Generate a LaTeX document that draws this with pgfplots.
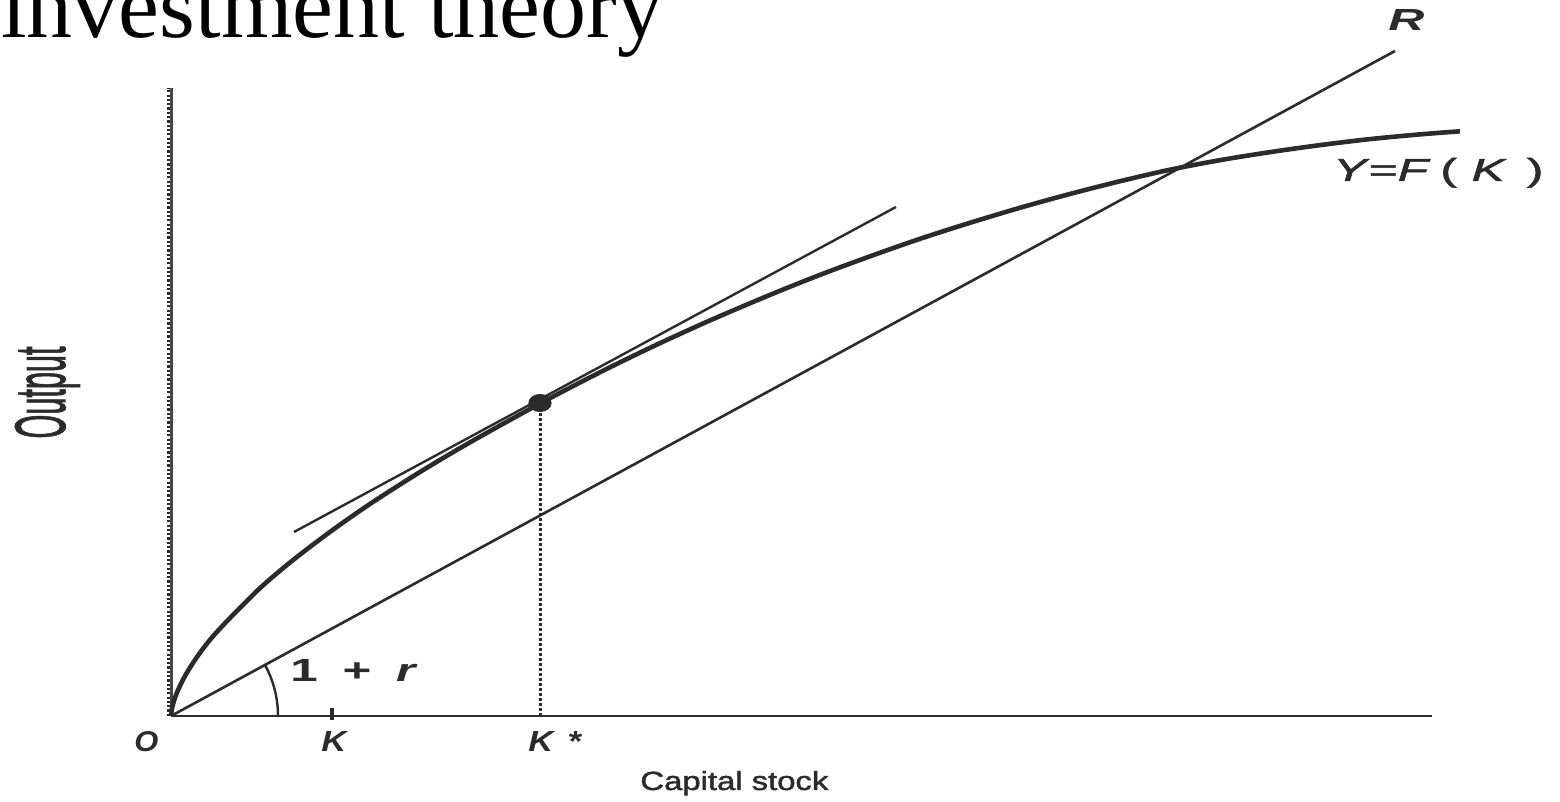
\documentclass[border=0pt]{standalone}
\usepackage{pgfplots}
\pgfplotsset{compat=1.18}
\usepackage{fontspec}
\usepackage{graphicx}
\setmainfont{Liberation Serif}
\newfontfamily\labelfont[FakeBold=1.6]{Liberation Sans}
\newfontfamily\heavyfont{Liberation Sans}
\definecolor{ink}{HTML}{2B2B2B}

\begin{document}
\begin{tikzpicture}
\useasboundingbox (0,0) rectangle (780pt,401pt);
\clip (0,0) rectangle (780pt,401pt);
\begin{axis}[
  width=780pt, height=401pt, scale only axis,
  xmin=-171, xmax=1389, ymin=-86, ymax=716,
  hide axis, clip=false,
]
% title (runs off the top edge)
\node[anchor=base west, inner sep=0, text=black, font=\fontsize{46pt}{50pt}\selectfont]
  at (axis cs:-170,678) {investment theory};

% axes
\addplot[ink, line width=1.4pt] coordinates {(0,0) (1261,0)};
\addplot[gray!55!black, line width=1.5pt] coordinates {(0.8,0) (0.8,628)};
\addplot[ink, line width=1.4pt, dash pattern=on 1.1pt off 1.05pt] coordinates {(-2.2,0) (-2.2,628)};

% tick at K
\addplot[ink, line width=1.7pt] coordinates {(161,-4) (161,8)};

% line R through the origin, slope 1 + r
\addplot[ink, line width=1.3pt] coordinates {(0,0) (1224,665)};

% angle arc at the origin
\addplot[ink, line width=1.2pt, smooth] coordinates {
  (107,0) (106.74,7.46) (105.96,14.89) (104.66,22.25) (102.85,29.49)
  (100.55,36.60) (97.75,43.52) (94.0,51.1)};

% production function Y = F(K)
\addplot[ink, line width=2.3pt, smooth] coordinates {
  (0,0) (1,7.6) (3,15.2) (7,25.9) (15,41.8) (26,59) (40,77.4) (60,99)
  (90,128.8) (122,155.9) (160,184.8) (200,212.7) (250,244.6) (300,274.2)
  (370,313) (430,344.2) (484,370.5) (540,396) (600,421.5) (650,441.5)
  (700,460) (750,477.5) (800,493.5) (850,508.5) (900,522.3) (950,535)
  (1000,546.5) (1050,556) (1100,564) (1150,571) (1200,577) (1250,581.7)
  (1289,584.7)};

% tangent at K*
\addplot[ink, line width=1.2pt] coordinates {(123,184) (725,509)};

% dotted drop line from the optimum
\addplot[ink, line width=1.5pt, dash pattern=on 1.4pt off 1.1pt] coordinates {(369,0) (369,306)};

% optimum point
\addplot[only marks, mark=*, mark size=4.3pt, mark options={fill=ink, draw=ink, xscale=1.3}]
  coordinates {(369,313)};

% labels
\node[rotate=90, anchor=base, inner sep=0, text=ink] at (axis cs:-106,323.5)
  {\resizebox{46pt}{25pt}{\labelfont Output}};
\node[anchor=base west, inner sep=0, text=ink] at (axis cs:469,-74)
  {\resizebox{94pt}{9.5pt}{\labelfont Capital stock}};
\node[anchor=base west, inner sep=0, text=ink] at (axis cs:-37,-36)
  {\resizebox{12pt}{10pt}{\heavyfont\bfseries\itshape O}};
\node[anchor=base west, inner sep=0, text=ink] at (axis cs:150,-36)
  {\resizebox{12.5pt}{10pt}{\heavyfont\bfseries\itshape K}};
\node[anchor=base west, inner sep=0, text=ink] at (axis cs:357,-36)
  {\resizebox{27pt}{10pt}{\heavyfont\bfseries\itshape K\hspace{0.45em}\upshape *}};
\node[anchor=base west, inner sep=0, text=ink] at (axis cs:119,34)
  {\resizebox{62.5pt}{11pt}{\heavyfont\bfseries 1\enspace+\enspace\itshape r}};
\node[anchor=base west, inner sep=0, text=ink] at (axis cs:1217,685)
  {\resizebox{18pt}{10.5pt}{\heavyfont\bfseries\itshape R}};
\node[anchor=base west, inner sep=0, text=ink] at (axis cs:1162,535)
  {\resizebox{105pt}{11.5pt}{\labelfont\itshape Y\hspace{0.05em}\upshape=\itshape F\hspace{0.25em}\upshape(\hspace{0.3em}\itshape K\hspace{0.45em}\upshape)}};
\end{axis}
\end{tikzpicture}
\end{document}
